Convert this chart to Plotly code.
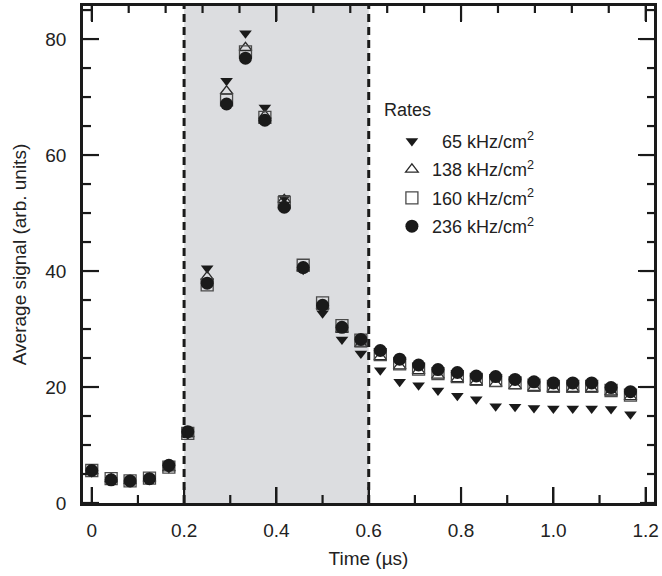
import plotly.graph_objects as go

# ---- data ----
time_us = [0.0, 0.042, 0.083, 0.125, 0.167, 0.208, 0.25, 0.292, 0.333, 0.375,
           0.417, 0.458, 0.5, 0.542, 0.583, 0.625, 0.667, 0.708, 0.75, 0.792,
           0.833, 0.875, 0.917, 0.958, 1.0, 1.042, 1.083, 1.125, 1.167]

rate_65 = [5.3, 4.0, 3.6, 4.0, 6.0, 11.8, 40.5, 72.8, 81.0, 68.2,
           52.6, 40.2, 32.7, 28.2, 25.8, 22.9, 20.9, 20.3, 19.4, 18.5,
           17.9, 16.7, 16.6, 16.4, 16.3, 16.3, 16.3, 16.2, 15.3]
rate_138 = [5.5, 4.1, 3.8, 4.2, 6.0, 11.9, 39.0, 71.0, 78.5, 66.8,
            52.3, 40.6, 33.9, 29.9, 27.4, 25.2, 23.6, 22.8, 22.0, 21.4,
            20.9, 20.6, 20.2, 19.9, 19.7, 19.7, 19.7, 19.1, 18.3]
rate_160 = [5.6, 4.2, 3.8, 4.3, 6.2, 12.0, 37.6, 69.5, 77.8, 66.5,
            51.8, 41.0, 34.5, 30.6, 28.1, 25.6, 24.0, 23.1, 22.3, 21.8,
            21.3, 21.1, 20.7, 20.3, 20.1, 20.1, 20.1, 19.4, 18.6]
rate_236 = [5.6, 4.0, 3.8, 4.2, 6.5, 12.3, 37.9, 68.8, 76.7, 66.0,
            51.0, 40.6, 34.1, 30.3, 28.2, 26.3, 24.8, 23.8, 23.0, 22.5,
            21.9, 21.8, 21.3, 20.9, 20.7, 20.7, 20.7, 19.9, 19.2]

series_labels = ["\u200765 kHz/cm<sup>2</sup>", "138 kHz/cm<sup>2</sup>",
                 "160 kHz/cm<sup>2</sup>", "236 kHz/cm<sup>2</sup>"]

x_ticks = [0, 0.2, 0.4, 0.6, 0.8, 1.0, 1.2]
x_ticktext = ["0", "0.2", "0.4", "0.6", "0.8", "1.0", "1.2"]
x_minor = [0.1, 0.3, 0.5, 0.7, 0.9, 1.1]
top_ticks = [0, 0.4, 0.8, 1.2]
top_minor = [0.08, 0.16, 0.24, 0.32, 0.48, 0.56, 0.64, 0.72, 0.88, 0.96, 1.04, 1.12]
y_ticks = [0, 20, 40, 60, 80]
y_minor = [5, 10, 15, 25, 30, 35, 45, 50, 55, 65, 70, 75, 85]

shade_start, shade_end = 0.2, 0.6
x_range = [-0.019, 1.218]
y_range = [0, 85.7]

INK = "#1a1a1a"
TXT = "#222222"
FONT = "Liberation Sans, Arial, sans-serif"
FS = 19

marker_styles = [
    dict(symbol="triangle-down", size=11, color=INK),
    dict(symbol="triangle-up-open", size=11, color="#2a2a2a", line=dict(width=1.3)),
    dict(symbol="square-open", size=12, color="#4a4a4a", line=dict(width=1.3)),
    dict(symbol="circle", size=13, color=INK),
]

fig = go.Figure()
for vals, lab, mk, grp in zip([rate_65, rate_138, rate_160, rate_236],
                              series_labels, marker_styles, "abcd"):
    fig.add_trace(go.Scatter(x=time_us, y=vals, mode="markers", name=lab,
                             marker=mk, legendgroup=grp, cliponaxis=False))

# invisible carrier for the mirrored top/right axes
fig.add_trace(go.Scatter(x=[None], y=[None], xaxis="x2", yaxis="y2",
                         showlegend=False, hoverinfo="skip"))

fig.add_shape(type="rect", xref="x", yref="y", x0=shade_start, x1=shade_end,
              y0=y_range[0], y1=y_range[1], fillcolor="#dcdde0",
              line=dict(width=0), layer="below")
for xv in (shade_start, shade_end):
    fig.add_shape(type="line", xref="x", yref="y", x0=xv, x1=xv,
                  y0=y_range[0], y1=y_range[1],
                  line=dict(color=INK, width=3, dash="8px,5px"), layer="above")

# inward tick marks (pixel-length, positioned at the axis tick values)
tick_line = dict(color=INK, width=2.2)
for vals, length in ((x_ticks, 16), (x_minor, 8)):
    for t in vals:
        fig.add_shape(type="line", xref="x", yref="y", x0=t, x1=t,
                      ysizemode="pixel", yanchor=y_range[0], y0=0, y1=length,
                      line=tick_line, layer="above")
for vals, length in ((top_ticks, 15), (top_minor, 7)):
    for t in vals:
        fig.add_shape(type="line", xref="x", yref="y", x0=t, x1=t,
                      ysizemode="pixel", yanchor=y_range[1], y0=0, y1=-length,
                      line=tick_line, layer="above")
for vals, llen, rlen in ((y_ticks, 16, 14), (y_minor, 8, 7)):
    for t in vals:
        fig.add_shape(type="line", xref="x", yref="y", y0=t, y1=t,
                      xsizemode="pixel", xanchor=x_range[0], x0=0, x1=llen,
                      line=tick_line, layer="above")
        fig.add_shape(type="line", xref="x", yref="y", y0=t, y1=t,
                      xsizemode="pixel", xanchor=x_range[1], x0=0, x1=-rlen,
                      line=tick_line, layer="above")


def axis_style(tickvals, labels):
    return dict(showline=True, linewidth=2.5, linecolor=INK, showgrid=False,
                zeroline=False, ticks="inside", ticklen=16, tickwidth=2.2,
                tickcolor=INK, tickmode="array", tickvals=tickvals,
                showticklabels=labels,
                tickfont=dict(size=FS, color=TXT, family=FONT))


xb = axis_style(x_ticks, True)
xb.update(range=x_range, ticktext=x_ticktext, ticklabelstandoff=8,
          title=dict(text="Time (\u00b5s)", font=dict(size=FS, color=TXT), standoff=13))
yl = axis_style(y_ticks, True)
yl.update(range=y_range, ticklabelstandoff=10,
          title=dict(text="Average signal (arb. units)", font=dict(size=FS, color=TXT), standoff=14))

fig.update_layout(
    template="none",
    width=662, height=576,
    margin=dict(l=83, r=8, t=6, b=73, autoexpand=False),
    paper_bgcolor="white", plot_bgcolor="rgba(0,0,0,0)",
    font=dict(family=FONT, size=FS, color=TXT),
    xaxis=xb,
    yaxis=yl,
    xaxis2=dict(range=x_range, overlaying="x", side="top", anchor="y",
                **axis_style(top_ticks, False)),
    yaxis2=dict(range=y_range, overlaying="y", side="right", anchor="x",
                **axis_style(y_ticks, False)),
    legend=dict(x=0.541, y=0.765, xanchor="left", yanchor="top",
                bgcolor="rgba(0,0,0,0)", font=dict(size=18, color=TXT, family=FONT),
                tracegroupgap=2, itemsizing="trace"),
    annotations=[dict(text="Rates", xref="paper", yref="paper", x=0.524, y=0.791,
                      xanchor="left", yanchor="middle", showarrow=False,
                      font=dict(size=18, color=TXT, family=FONT))],
    showlegend=True,
)

fig.write_html("out.html", config={"displayModeBar": False},
               post_script="document.body.style.margin='0';")
